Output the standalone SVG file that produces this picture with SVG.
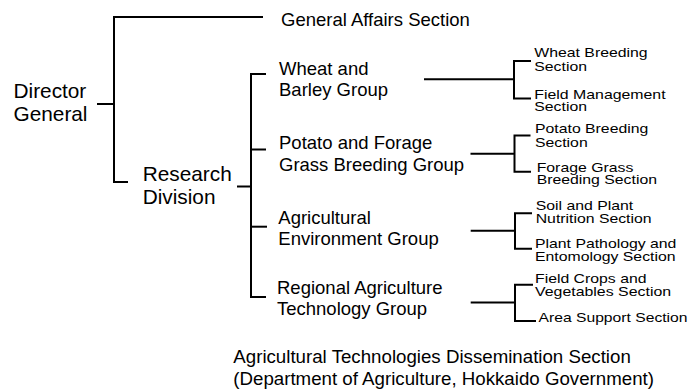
<svg xmlns="http://www.w3.org/2000/svg" width="691" height="390" viewBox="0 0 691 390">
<style>
text{font-family:"Liberation Sans",Arial,sans-serif;fill:#000}
.big{font-size:20.8px}
.mid{font-size:18.5px}
.sm{font-size:13.2px}
.ln{fill:none;stroke:#000;stroke-width:2}
</style>
<rect width="691" height="390" fill="#fff"/>
<g id="connectors" class="ln">
<path d="M97,104H114"/>
<path d="M263,17H114V182H128"/>
<path d="M237,186.5H251"/>
<path d="M266,74H251V297H266"/>
<path d="M251,149.5H266"/>
<path d="M251,226.7H267"/>
<path d="M424,79.3H514"/>
<path d="M531,61H514V98.5H531"/>
<path d="M470.5,153.7H514.5"/>
<path d="M530.5,135.5H514.5V171.7H531"/>
<path d="M470.7,230.7H515"/>
<path d="M532,213.3H515V248.7H532"/>
<path d="M470.7,302.5H515"/>
<path d="M533,284.7H515V321H536"/>
</g>
<g id="director"><text class="big" x="13.5" y="97.7">Director</text><text class="big" x="13.5" y="120.7">General</text></g>
<g id="general-affairs"><text class="mid" x="281" y="26">General Affairs Section</text></g>
<g id="research"><text class="big" x="142.7" y="181">Research</text><text class="big" x="142.7" y="204">Division</text></g>
<g id="wheat-group"><text class="mid" x="279" y="75">Wheat and</text><text class="mid" x="279" y="96">Barley Group</text></g>
<g id="potato-group"><text class="mid" x="279" y="149.3">Potato and Forage</text><text class="mid" x="279" y="170.5">Grass Breeding Group</text></g>
<g id="env-group"><text class="mid" x="278.3" y="224.2">Agricultural</text><text class="mid" x="278.3" y="245">Environment Group</text></g>
<g id="regional-group"><text class="mid" x="277" y="294">Regional Agriculture</text><text class="mid" x="277" y="315">Technology Group</text></g>
<g id="wheat-breeding"><text class="sm" x="534.3" y="57" textLength="113.3" lengthAdjust="spacingAndGlyphs">Wheat Breeding</text><text class="sm" x="534.3" y="70.7" textLength="52.7" lengthAdjust="spacingAndGlyphs">Section</text></g>
<g id="field-management"><text class="sm" x="534.3" y="98.5" textLength="131.3" lengthAdjust="spacingAndGlyphs">Field Management</text><text class="sm" x="534.3" y="111" textLength="52.7" lengthAdjust="spacingAndGlyphs">Section</text></g>
<g id="potato-breeding"><text class="sm" x="535" y="133.3" textLength="113.3" lengthAdjust="spacingAndGlyphs">Potato Breeding</text><text class="sm" x="535" y="146.7" textLength="52.7" lengthAdjust="spacingAndGlyphs">Section</text></g>
<g id="forage-grass"><text class="sm" x="536.7" y="171.7" textLength="96.6" lengthAdjust="spacingAndGlyphs">Forage Grass</text><text class="sm" x="536.7" y="184.3" textLength="120.3" lengthAdjust="spacingAndGlyphs">Breeding Section</text></g>
<g id="soil-plant"><text class="sm" x="535.7" y="210" textLength="97.5" lengthAdjust="spacingAndGlyphs">Soil and Plant</text><text class="sm" x="535.7" y="223.3" textLength="115.9" lengthAdjust="spacingAndGlyphs">Nutrition Section</text></g>
<g id="plant-pathology"><text class="sm" x="535" y="248.3" textLength="141.4" lengthAdjust="spacingAndGlyphs">Plant Pathology and</text><text class="sm" x="535" y="260.7" textLength="140.5" lengthAdjust="spacingAndGlyphs">Entomology Section</text></g>
<g id="field-crops"><text class="sm" x="535" y="283.3" textLength="111.5" lengthAdjust="spacingAndGlyphs">Field Crops and</text><text class="sm" x="535" y="295.7" textLength="136.1" lengthAdjust="spacingAndGlyphs">Vegetables Section</text></g>
<g id="area-support"><text class="sm" x="538.5" y="322.3" textLength="149" lengthAdjust="spacingAndGlyphs">Area Support Section</text></g>
<g id="dissemination"><text class="mid" x="233.3" y="363" style="font-size:18.7px">Agricultural Technologies Dissemination Section</text><text class="mid" x="233.3" y="384.5" style="font-size:18.7px">(Department of Agriculture, Hokkaido Government)</text></g>
</svg>
